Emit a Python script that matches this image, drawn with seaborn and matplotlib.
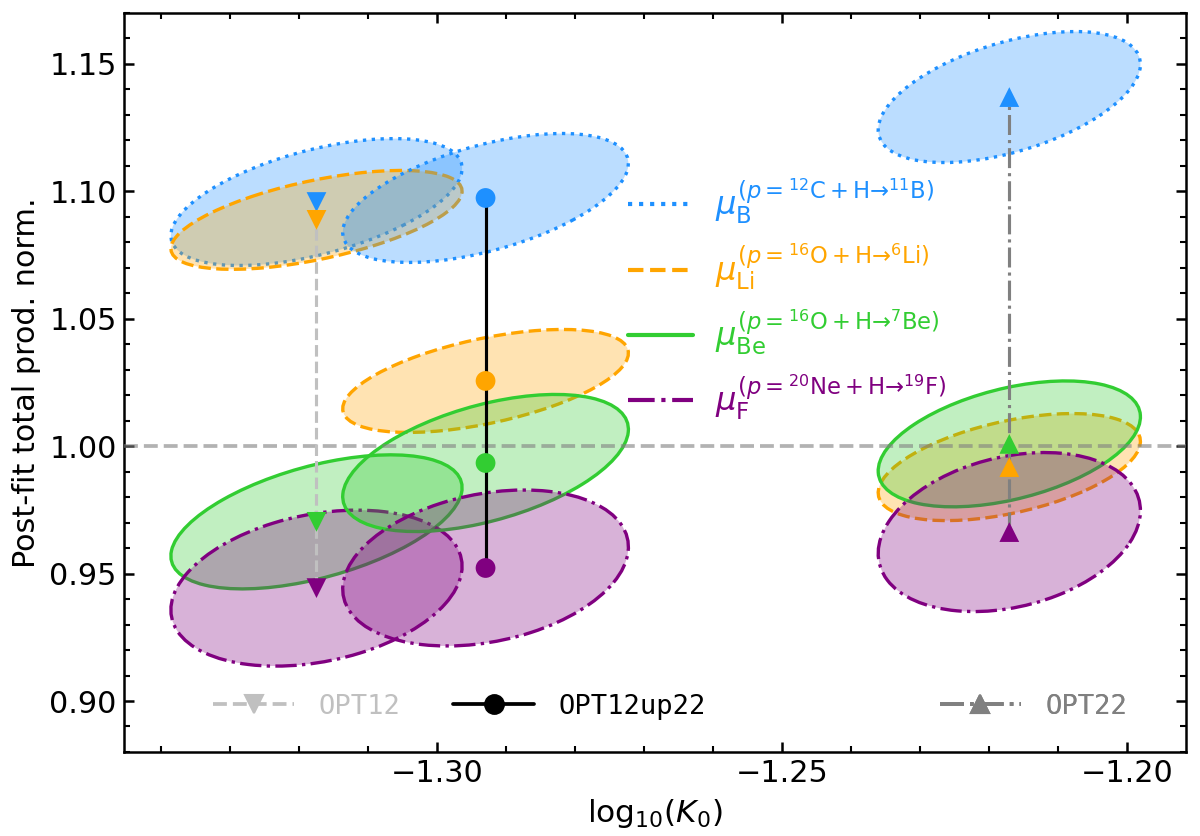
import numpy as np
import pandas as pd
import matplotlib.pyplot as plt
import seaborn as sns
from matplotlib.patches import Ellipse
from matplotlib.lines import Line2D
from matplotlib.ticker import MultipleLocator

# fit configurations and their log10(K0) best fit
models = ['OPT12', 'OPT12up22', 'OPT22']
model_x = [-1.3175, -1.293, -1.2171]
species = ['B', 'Li', 'Be', 'F']

# post-fit normalisations (one value per model)
mu_B = [1.0958, 1.0974, 1.1370]
mu_Li = [1.0888, 1.0256, 0.9918]
mu_Be = [0.9703, 0.9934, 1.0009]
mu_F = [0.9443, 0.9522, 0.9663]

# 1-sigma widths and correlation of the contours
sig_x = [0.0211, 0.0207, 0.0190]
sig_B = [0.0249, 0.0253, 0.0257]
sig_Li = [0.0194, 0.0202, 0.0210]
sig_Be = [0.0263, 0.0269, 0.0247]
sig_F = [0.0306, 0.0306, 0.0312]
rho_B = [0.53, 0.535, 0.50]
rho_Li = [0.58, 0.54, 0.48]
rho_Be = [0.51, 0.49, 0.43]
rho_F = [0.28, 0.27, 0.27]

labels = [
    r'$\mu_{\rm B}^{(p={}^{12}{\rm C}+{\rm H}→{}^{11}{\rm B})}$',
    r'$\mu_{\rm Li}^{(p={}^{16}{\rm O}+{\rm H}→{}^{6}{\rm Li})}$',
    r'$\mu_{\rm Be}^{(p={}^{16}{\rm O}+{\rm H}→{}^{7}{\rm Be})}$',
    r'$\mu_{\rm F}^{(p={}^{20}{\rm Ne}+{\rm H}→{}^{19}{\rm F})}$',
]

colors = {'B': 'dodgerblue', 'Li': 'orange', 'Be': 'limegreen', 'F': 'purple'}
lstyles = {'B': ':', 'Li': '--', 'Be': '-', 'F': '-.'}
markers = {'OPT12': 'v', 'OPT12up22': 'o', 'OPT22': '^'}
line_col = {'OPT12': 'silver', 'OPT12up22': 'black', 'OPT22': 'grey'}
line_ls = {'OPT12': '--', 'OPT12up22': '-', 'OPT22': '-.'}

mu = {'B': mu_B, 'Li': mu_Li, 'Be': mu_Be, 'F': mu_F}
sig = {'B': sig_B, 'Li': sig_Li, 'Be': sig_Be, 'F': sig_F}
rho = {'B': rho_B, 'Li': rho_Li, 'Be': rho_Be, 'F': rho_F}

rows = []
for i, m in enumerate(models):
    for s in species:
        rows.append(dict(model=m, species=s, x=model_x[i], mu=mu[s][i],
                         sx=sig_x[i], sy=sig[s][i], rho=rho[s][i]))
df = pd.DataFrame(rows)

sns.set_style('ticks', {'xtick.direction': 'in', 'ytick.direction': 'in',
                        'axes.edgecolor': 'black', 'text.color': 'black',
                        'axes.labelcolor': 'black', 'xtick.color': 'black',
                        'ytick.color': 'black'})
plt.rcParams['font.family'] = ['DejaVu Sans']

fig = plt.figure(figsize=(8, 8 * 836 / 1200), dpi=150)
ax = fig.add_axes([0.1033, 0.1005, 0.885, 0.884])

# covariance ellipses
for _, r in df.iterrows():
    c = r.rho * r.sx * r.sy
    cov = np.array([[r.sx ** 2, c], [c, r.sy ** 2]])
    vals, vecs = np.linalg.eigh(cov)
    ang = np.degrees(np.arctan2(vecs[1, 1], vecs[0, 1]))
    e = Ellipse((r.x, r.mu), 2 * np.sqrt(vals[1]), 2 * np.sqrt(vals[0]), angle=ang,
                facecolor=(colors[r.species], 0.3), edgecolor=colors[r.species],
                ls=lstyles[r.species], lw=1.6, zorder=2)
    ax.add_patch(e)

ax.axhline(1.0, color='grey', alpha=0.6, ls='--', lw=1.8, zorder=3)

# vertical connectors per model
for m, g in df.groupby('model'):
    ax.plot([g.x.iloc[0]] * 2, [g.mu.min(), g.mu.max()], color=line_col[m],
            ls=line_ls[m], lw=1.5, zorder=4)

sns.scatterplot(data=df, x='x', y='mu', hue='species', style='model',
                palette=colors, markers=markers, s=90, edgecolor='none',
                legend=False, zorder=5, ax=ax)

ax.set_xlim(-1.3454, -1.1915)
ax.set_ylim(0.88, 1.170)
ax.xaxis.set_major_locator(MultipleLocator(0.05))
ax.xaxis.set_minor_locator(MultipleLocator(0.01))
ax.yaxis.set_major_locator(MultipleLocator(0.05))
ax.yaxis.set_minor_locator(MultipleLocator(0.01))
ax.tick_params(which='both', direction='in', top=True, right=True, labelsize=14.5)
ax.tick_params(which='major', length=5, width=1.2)
ax.tick_params(which='minor', length=3, width=1.0)
for sp in ax.spines.values():
    sp.set_linewidth(1.2)
ax.set_xlabel(r'$\mathrm{log}_{10}(K_0)$', fontsize=15)
ax.set_ylabel('Post-fit total prod. norm.', fontsize=14.5)

# species legend
h_mu = [Line2D([], [], color=colors[s], ls=lstyles[s], lw=2) for s in species]
leg1 = ax.legend(h_mu, labels, loc='center left', bbox_to_anchor=(0.4746, 0.612),
                 frameon=False, fontsize=15.5, labelcolor='linecolor', borderpad=0,
                 borderaxespad=0, handlelength=2.0, handletextpad=0.7,
                 labelspacing=0.45)
ax.add_artist(leg1)

# model legends at the bottom
leg_x = [0.0838, 0.3098, 0.768]
for m, lx in zip(models, leg_x):
    h = Line2D([], [], color=line_col[m], ls=line_ls[m], lw=1.8,
               marker=markers[m], markersize=9)
    lg = ax.legend([h], [m], loc='center left', bbox_to_anchor=(lx, 0.0609),
                   frameon=False, borderpad=0, borderaxespad=0, handlelength=3,
                   handletextpad=0.9, labelcolor='linecolor',
                   prop={'family': 'DejaVu Sans Mono', 'size': 13})
    ax.add_artist(lg)

fig.savefig('out.png', dpi=150)
